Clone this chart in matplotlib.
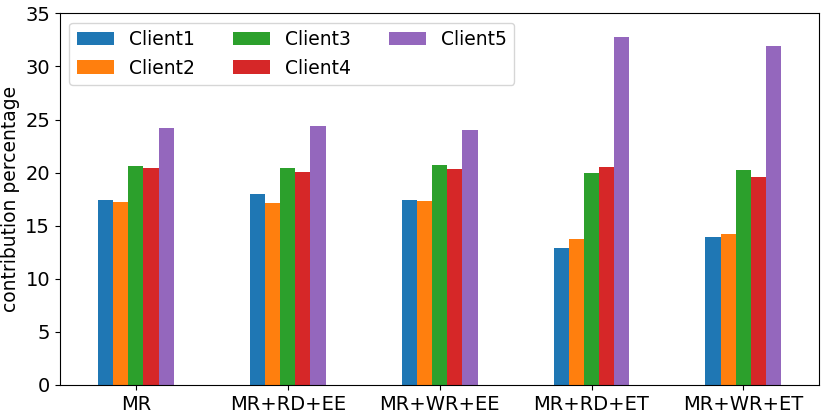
import matplotlib
matplotlib.use("Agg")
import matplotlib.pyplot as plt
import pandas as pd

# Données
methodes = ["MR", "MR+RD+EE", "MR+WR+EE", "MR+RD+ET", "MR+WR+ET"]
client1 = [17.4, 17.95, 17.45, 12.85, 13.95]
client2 = [17.2, 17.1, 17.35, 13.75, 14.2]
client3 = [20.6, 20.4, 20.75, 19.95, 20.2]
client4 = [20.45, 20.05, 20.3, 20.5, 19.55]
client5 = [24.2, 24.4, 24.0, 32.75, 31.95]

df = pd.DataFrame(
    {"Client1": client1, "Client2": client2, "Client3": client3,
     "Client4": client4, "Client5": client5},
    index=methodes,
)

plt.rcParams["font.size"] = 14
fig, ax = plt.subplots(figsize=(8.31, 4.17), dpi=100)
df.plot.bar(ax=ax, rot=0)
ax.set_ylim(0, 35)
ax.set_ylabel("contribution percentage", fontsize=13.5)
ax.legend(loc="upper left", ncol=3, fontsize=13.5)
fig.subplots_adjust(left=0.072, right=0.986, top=0.968, bottom=0.077)
fig.savefig("out.png", dpi=100)
